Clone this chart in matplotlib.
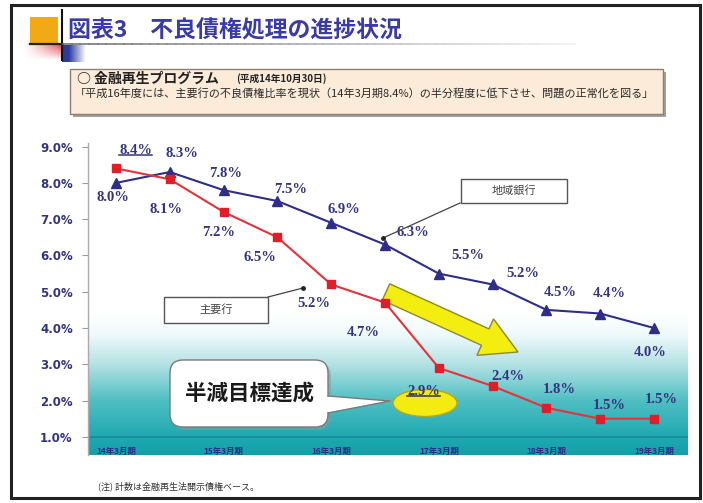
import numpy as np
import matplotlib
matplotlib.use("Agg")
import matplotlib.pyplot as plt
from matplotlib.patches import Rectangle, FancyBboxPatch, Polygon, Ellipse
from matplotlib.lines import Line2D
from matplotlib.transforms import Affine2D
from matplotlib.colors import to_rgb

# ---- data ---------------------------------------------------------------
periods = ["14年3月期", "14年9月期", "15年3月期", "15年9月期", "16年3月期", "16年9月期",
           "17年3月期", "17年9月期", "18年3月期", "18年9月期", "19年3月期"]
tick_periods = ["14年3月期", "15年3月期", "16年3月期", "17年3月期", "18年3月期", "19年3月期"]
regional = [8.0, 8.3, 7.8, 7.5, 6.9, 6.3, 5.5, 5.2, 4.5, 4.4, 4.0]   # 地域銀行
major = [8.4, 8.1, 7.2, 6.5, 5.2, 4.7, 2.9, 2.4, 1.8, 1.5, 1.5]      # 主要行
y_ticks = [1, 2, 3, 4, 5, 6, 7, 8, 9]

title = "図表3\u3000不良債権処理の進捗状況"
program_head = "○ 金融再生プログラム"
program_date = "(平成14年10月30日)"
program_body = "「平成16年度には、主要行の不良債権比率を現状（14年3月期8.4%）の半分程度に低下させ、問題の正常化を図る」"
note = "(注) 計数は金融再生法開示債権ベース。"

# label offsets in pixels (right, up) from each point
reg_off = [(-3, -15), (12, 19), (2, 17), (13, 12), (13, 13), (28, 12),
           (29, 18), (30, 11), (14, 17), (9, 20), (-4, -24)]
maj_off = [(20, 18), (-4, -30), (-5, -21), (-17, -20), (-17, -19), (-22, -30),
           (-15, -24), (15, 10), (13, 18), (9, 13), (7, 19)]

# ---- styling ------------------------------------------------------------
W, H = 703, 503
NAVY = "#2e2e8a"
LABEL = "#33337f"
RED = "#e3343a"
JP = ["Noto Sans CJK JP", "DejaVu Sans"]
SERIF = ["Liberation Serif", "DejaVu Serif"]
plt.rcParams["font.family"] = ["DejaVu Sans", "Noto Sans CJK JP"]

fig = plt.figure(figsize=(W / 100, H / 100), dpi=100)
fig.patch.set_facecolor("white")

# pixel coordinates, origin at the top-left corner
PX = Affine2D().scale(1 / 100, -1 / 100).translate(0, H / 100) + fig.dpi_scale_trans

# outer frame
fig.add_artist(Rectangle((11, 5), 689, 493, transform=PX, fill=False,
                         ec="#222222", lw=2.2, zorder=10))

# ---- header -------------------------------------------------------------
fig.add_artist(Rectangle((30, 17), 28, 26, transform=PX, fc="#f2a916", ec="none", zorder=2))

# red glow under the orange block
hax = fig.add_axes([22 / W, 1 - 60 / H, 42 / W, 17 / H])
hax.axis("off")
gx = np.linspace(0, 1, 60)
gy = np.linspace(0, 1, 30)
GX, GY = np.meshgrid(gx, gy)
alpha = np.clip(GX, 0, 1) ** 1.3 * np.clip(1 - GY, 0, 1) ** 0.9
img = np.zeros((30, 60, 4))
img[..., :3] = to_rgb("#e02a3a")
img[..., 3] = alpha
hax.imshow(img, aspect="auto", extent=[0, 1, 0, 1], origin="upper")

# blue block fading right
bax = fig.add_axes([62 / W, 1 - 62 / H, 24 / W, 17 / H])
bax.axis("off")
bimg = np.zeros((10, 60, 4))
bimg[..., :3] = to_rgb("#2a3aa4")
bimg[..., 3] = np.clip(1.4 - np.linspace(0, 1, 60) * 1.4, 0, 1)[None, :]
bax.imshow(bimg, aspect="auto", extent=[0, 1, 0, 1])

fig.add_artist(Line2D([62, 62], [10, 60], transform=PX, color="#111111", lw=1.5, zorder=3))
fig.add_artist(Line2D([30, 63], [44, 44], transform=PX, color="#222222", lw=1.6, zorder=3))
xs = np.linspace(63, 575, 60)
for i in range(len(xs) - 1):
    t = i / (len(xs) - 2)
    c = 0.45 + 0.5 * t
    fig.add_artist(Line2D([xs[i], xs[i + 1]], [44, 44], transform=PX,
                          color=(c, c, c), lw=1.2, zorder=3))

fig.text(68, 31, title, transform=PX, family=JP, fontsize=16.5, fontweight="bold",
         color="#3a3aa8", va="center", ha="left")

# ---- program box --------------------------------------------------------
fig.add_artist(Rectangle((73, 72), 593, 45, transform=PX, fc="#a0a0a0", ec="none", zorder=2))
fig.add_artist(Rectangle((70, 69), 593, 45, transform=PX, fc="#fcebd8", ec="#8c7e70",
                         lw=1.0, zorder=2))
fig.text(77, 79, program_head, transform=PX, family=JP, fontsize=10, fontweight="bold",
         color="#222222", va="center", ha="left", zorder=3)
fig.text(236, 79, program_date, transform=PX, family=JP, fontsize=7, fontweight="bold",
         color="#222222", va="center", ha="left", zorder=3)
fig.text(75, 93, program_body, transform=PX, family=JP, fontsize=8.0,
         color="#2a2a2a", va="center", ha="left", zorder=3)

# ---- chart --------------------------------------------------------------
ax = fig.add_axes([88 / W, 1 - 455 / H, 600 / W, 312 / H])
X0, X1, Y0, Y1 = -0.52, 10.63, 0.5, 9.1
ax.set_facecolor("white")

# teal background gradient
stops = [(0.5, "#12a0a9"), (1.0, "#1fa9b0"), (2.0, "#50bfc3"), (3.0, "#b4e2e5"),
         (3.8, "#eff9fa"), (4.4, "#ffffff")]
gys = np.linspace(0.5, 4.4, 300)
cols = np.array([to_rgb(c) for _, c in stops])
sy = np.array([s for s, _ in stops])
grad = np.stack([np.interp(gys, sy, cols[:, k]) for k in range(3)], axis=-1)
ax.imshow(grad[:, None, :], extent=[X0, X1, 0.5, 4.4], origin="lower",
          aspect="auto", zorder=0, interpolation="bilinear")
ax.axhline(1.0, color="#178d9e", lw=1.3, zorder=1)

x = np.arange(len(periods))
ax.plot(x, regional, color=NAVY, lw=1.5, marker="^", ms=6.5, mfc=NAVY, mec=NAVY, zorder=4)
ax.plot(x, major, color=RED, lw=1.5, marker="s", ms=5.5, mfc="#e01e2a", mec="#e01e2a", zorder=4)

for i, v in enumerate(regional):
    dx, dy = reg_off[i]
    ax.annotate(f"{v:.1f}%", xy=(x[i], v), xytext=(dx * 0.72, dy * 0.72),
                textcoords="offset points", ha="center", va="center", family=SERIF,
                fontsize=10.5, fontweight="bold", color=LABEL, zorder=6)
maj_texts = []
for i, v in enumerate(major):
    dx, dy = maj_off[i]
    t = ax.annotate(f"{v:.1f}%", xy=(x[i], v), xytext=(dx * 0.72, dy * 0.72),
                    textcoords="offset points", ha="center", va="center", family=SERIF,
                    fontsize=10.5, fontweight="bold", color=LABEL, zorder=6)
    maj_texts.append(t)

# category labels inside the bottom band
for lbl in tick_periods:
    ax.text(periods.index(lbl), 0.6, lbl, family=JP, fontsize=6, fontweight="bold",
            color="#2a2a88", ha="center", va="center", zorder=5)

# yellow arrow
T = np.array([386.0, 292.0])
P = np.array([518.0, 352.0])
d = (P - T) / np.linalg.norm(P - T)
n = np.array([-d[1], d[0]])
Hb = P - 36 * d
arrow_pts = [T + 9 * n, Hb + 9 * n, Hb + 20 * n, P, Hb - 20 * n, Hb - 9 * n, T - 9 * n]
ax.add_patch(Polygon(arrow_pts, closed=True, transform=PX, fc="#f4ee10", ec="#8c8a2a",
                     lw=1.0, zorder=3))
# highlight ellipse behind the 2.9% label
ax.add_patch(Ellipse((425, 403), 64, 27, transform=PX, fc="#f4ec10", ec="#b0a820",
                     lw=1.0, zorder=3))

ax.set_xlim(X0, X1)
ax.set_ylim(Y0, Y1)
ax.set_xticks([])
ax.set_yticks(y_ticks)
ax.set_yticklabels([f"{v:.1f}%" for v in y_ticks])
ax.tick_params(axis="y", direction="out", length=4, width=0.8, color="#999999",
               pad=7, labelsize=8.5, labelcolor=LABEL)
for lab in ax.get_yticklabels():
    lab.set_fontweight("bold")
for s in ["top", "right", "bottom"]:
    ax.spines[s].set_visible(False)
ax.spines["left"].set_color("#aaaaaa")
ax.spines["left"].set_linewidth(1.0)

# ---- callouts -----------------------------------------------------------
def label_box(x0, y0, w, h, text, tip_from, tip_to):
    fig.add_artist(Line2D([tip_from[0], tip_to[0]], [tip_from[1], tip_to[1]], transform=PX,
                          color="#444444", lw=0.9, zorder=5))
    fig.add_artist(Line2D([tip_to[0]], [tip_to[1]], transform=PX, marker="o", ms=2.5,
                          color="#222222", zorder=5))
    fig.add_artist(Rectangle((x0, y0), w, h, transform=PX, fc="white", ec="#555555",
                             lw=1.0, zorder=5))
    fig.text(x0 + w / 2, y0 + h / 2, text, transform=PX, family=JP, fontsize=8,
             color="#444444", ha="center", va="center", zorder=6)

label_box(164, 297, 104, 26, "主要行", (268, 297), (303, 288))
label_box(461, 179, 106, 24, "地域銀行", (460, 203), (383, 238))

# speech bubble
fig.add_artist(FancyBboxPatch((173, 363), 158, 67, transform=PX,
                              boxstyle="round,pad=0,rounding_size=13",
                              fc="#7f9ea2", ec="none", alpha=0.55, zorder=5))
fig.add_artist(FancyBboxPatch((170, 360), 158, 67, transform=PX,
                              boxstyle="round,pad=0,rounding_size=13",
                              fc="white", ec="#7a7a7a", lw=1.0, zorder=5))
fig.add_artist(Polygon([(325, 396), (390, 401), (325, 413)], closed=True, transform=PX,
                       fc="white", ec="none", zorder=5))
fig.add_artist(Line2D([328, 390, 328], [396, 401, 413], transform=PX, color="#7a7a7a",
                      lw=1.0, zorder=5))
fig.text(249, 393, "半減目標達成", transform=PX, family=JP, fontsize=15.5,
         fontweight="bold", color="#1a1a1a", ha="center", va="center", zorder=6)

fig.text(98, 486, note, transform=PX, family=JP, fontsize=6.5, color="#333333",
         ha="left", va="center")

# underline the 8.4% and 2.9% labels
fig.canvas.draw()
renderer = fig.canvas.get_renderer()
inv = fig.transFigure.inverted()
for idx, col in [(0, LABEL), (6, "#333333")]:
    bb = maj_texts[idx].get_window_extent(renderer)
    (fx0, fy), (fx1, _) = inv.transform([(bb.x0, bb.y0 + 2), (bb.x1, bb.y0 + 2)])
    fig.add_artist(Line2D([fx0, fx1], [fy, fy], transform=fig.transFigure, color=col,
                          lw=1.1, zorder=7))

fig.savefig("out.png", dpi=100)
